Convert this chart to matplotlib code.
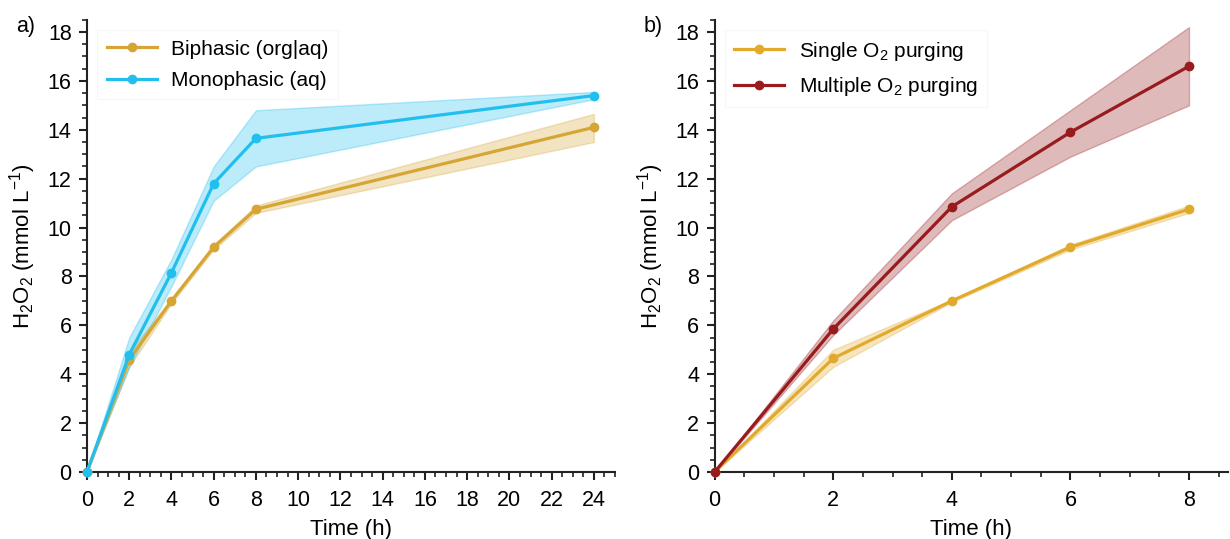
import matplotlib
matplotlib.use("Agg")
import matplotlib.pyplot as plt
from matplotlib.ticker import MultipleLocator

plt.rcParams['font.family'] = ['Liberation Sans', 'DejaVu Sans']
plt.rcParams['mathtext.default'] = 'regular'

# Panel a data
time_a = [0, 2, 4, 6, 8, 24]
bi_mean = [0, 4.6, 7.0, 9.2, 10.75, 14.1]
bi_low = [0, 4.3, 6.9, 9.1, 10.6, 13.5]
bi_high = [0, 4.9, 7.1, 9.3, 10.9, 14.65]
mono_mean = [0, 4.8, 8.15, 11.8, 13.65, 15.4]
mono_low = [0, 4.3, 7.6, 11.1, 12.5, 15.25]
mono_high = [0, 5.5, 8.7, 12.5, 14.8, 15.55]

# Panel b data
time_b = [0, 2, 4, 6, 8]
single_mean = [0, 4.65, 7.0, 9.2, 10.75]
single_low = [0, 4.3, 6.95, 9.1, 10.6]
single_high = [0, 5.0, 7.05, 9.3, 10.9]
multi_mean = [0, 5.85, 10.85, 13.9, 16.6]
multi_low = [0, 5.6, 10.3, 12.9, 15.0]
multi_high = [0, 6.2, 11.4, 14.8, 18.2]

c_gold_a = '#D6A533'
c_blue = '#22BFEE'
c_gold_b = '#E2AA2C'
c_red = '#981B1E'

fig = plt.figure(figsize=(12.3, 5.39), dpi=100)
ax1 = fig.add_axes([0.0707, 0.1243, 0.4293, 0.839])
ax2 = fig.add_axes([0.581, 0.1243, 0.417, 0.839])

def style(ax, xmax, xmajor):
    for s in ['top', 'right']:
        ax.spines[s].set_visible(False)
    for s in ['left', 'bottom']:
        ax.spines[s].set_linewidth(1.5)
        ax.spines[s].set_color('#222222')
    ax.set_xlim(0, xmax)
    ax.set_ylim(0, 18.5)
    ax.xaxis.set_major_locator(MultipleLocator(xmajor))
    ax.xaxis.set_minor_locator(MultipleLocator(0.5))
    ax.yaxis.set_major_locator(MultipleLocator(2))
    ax.yaxis.set_minor_locator(MultipleLocator(0.5))
    ax.tick_params(which='major', length=6, width=1.5, labelsize=15.5, color='#222222')
    ax.tick_params(axis='x', which='major', pad=7)
    ax.tick_params(axis='y', which='major', pad=5)
    ax.tick_params(which='minor', length=3.5, width=1.2, color='#222222')
    ax.set_xlabel('Time (h)', fontsize=16, labelpad=6)
    ax.set_ylabel('H$_2$O$_2$ (mmol L$^{-1}$)', fontsize=16, labelpad=7)

def series(ax, t, m, lo, hi, c, label):
    ax.fill_between(t, lo, hi, color=c, alpha=0.3, linewidth=1, edgecolor=c)
    ax.plot(t, m, '-o', color=c, lw=2.3, ms=6, label=label, clip_on=False, zorder=3)

series(ax1, time_a, bi_mean, bi_low, bi_high, c_gold_a, 'Biphasic (org|aq)')
series(ax1, time_a, mono_mean, mono_low, mono_high, c_blue, 'Monophasic (aq)')
style(ax1, 25, 2)

series(ax2, time_b, single_mean, single_low, single_high, c_gold_b, 'Single O$_2$ purging')
series(ax2, time_b, multi_mean, multi_low, multi_high, c_red, 'Multiple O$_2$ purging')
style(ax2, 8.65, 2)

for ax in (ax1, ax2):
    leg = ax.legend(loc='upper left', bbox_to_anchor=(0.0, 1.0), fontsize=15,
                    frameon=True, edgecolor='#f4f4f4', fancybox=False,
                    handlelength=2.4, handletextpad=0.7, borderpad=0.45, labelspacing=0.6)
    leg.get_frame().set_linewidth(0.8)

fig.text(0.013, 0.94, 'a)', fontsize=15.5)
fig.text(0.523, 0.94, 'b)', fontsize=15.5)

fig.savefig('out.png', dpi=100)
